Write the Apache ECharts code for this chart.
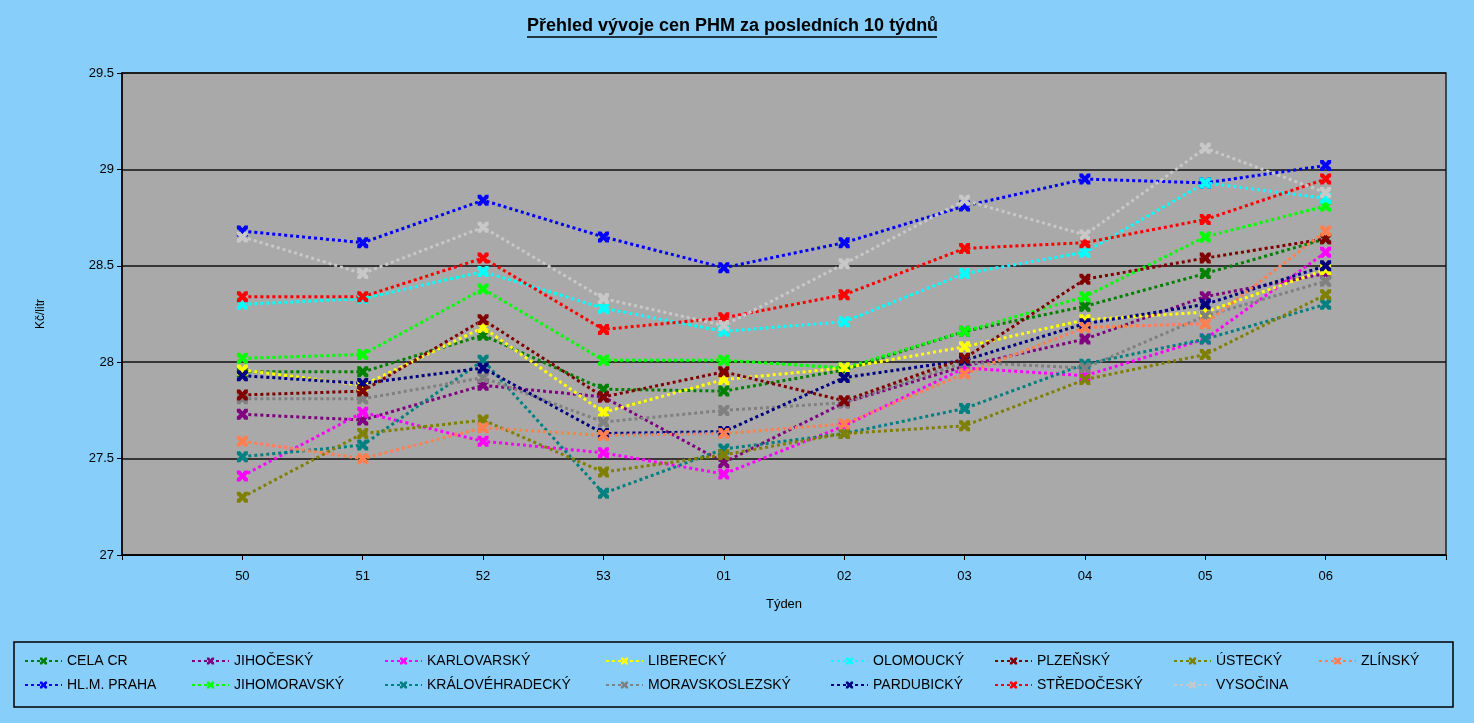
<!DOCTYPE html>
<html>
<head>
<meta charset="utf-8">
<script src="https://cdn.jsdelivr.net/npm/echarts@6/dist/echarts.min.js"></script>
<style>
html,body{margin:0;padding:0;background:#87CEFA;}
#c{width:1474px;height:723px;}
</style>
</head>
<body>
<div id="c"></div>
<script>
const weeks = ['50','51','52','53','01','02','03','04','05','06'];
const titleText = 'Přehled vývoje cen PHM za posledních 10 týdnů';
const yTicks = [27, 27.5, 28, 28.5, 29, 29.5];

const celaCR        = [27.95, 27.95, 28.14, 27.86, 27.85, 27.96, 28.16, 28.29, 28.46, 28.64];
const praha         = [28.68, 28.62, 28.84, 28.65, 28.49, 28.62, 28.81, 28.95, 28.93, 29.02];
const jihocesky     = [27.73, 27.70, 27.88, 27.82, 27.48, 27.79, 27.98, 28.12, 28.34, 28.46];
const jihomoravsky  = [28.02, 28.04, 28.38, 28.01, 28.01, 27.97, 28.16, 28.34, 28.65, 28.81];
const karlovarsky   = [27.41, 27.74, 27.59, 27.53, 27.42, 27.67, 27.97, 27.93, 28.12, 28.57];
const kralovehradecky = [27.51, 27.57, 28.01, 27.32, 27.55, 27.63, 27.76, 27.99, 28.12, 28.30];
const liberecky     = [27.96, 27.88, 28.18, 27.74, 27.91, 27.97, 28.08, 28.22, 28.26, 28.48];
const moravskoslezsky = [27.81, 27.81, 27.92, 27.69, 27.75, 27.79, 28.00, 27.97, 28.24, 28.42];
const olomoucky     = [28.30, 28.33, 28.47, 28.28, 28.16, 28.21, 28.46, 28.57, 28.93, 28.85];
const pardubicky    = [27.93, 27.89, 27.97, 27.63, 27.64, 27.92, 28.01, 28.20, 28.30, 28.50];
const plzensky      = [27.83, 27.85, 28.22, 27.82, 27.95, 27.80, 28.02, 28.43, 28.54, 28.64];
const stredocesky   = [28.34, 28.34, 28.54, 28.17, 28.23, 28.35, 28.59, 28.62, 28.74, 28.95];
const ustecky       = [27.30, 27.63, 27.70, 27.43, 27.52, 27.63, 27.67, 27.91, 28.04, 28.35];
const vysocina      = [28.65, 28.46, 28.70, 28.33, 28.19, 28.51, 28.84, 28.66, 29.11, 28.88];
const zlinsky       = [27.59, 27.50, 27.66, 27.62, 27.63, 27.68, 27.94, 28.18, 28.20, 28.68];

const seriesNames = ['CELA CR','HL.M. PRAHA','JIHOČESKÝ','JIHOMORAVSKÝ','KARLOVARSKÝ','KRÁLOVÉHRADECKÝ','LIBERECKÝ','MORAVSKOSLEZSKÝ','OLOMOUCKÝ','PARDUBICKÝ','PLZEŇSKÝ','STŘEDOČESKÝ','ÚSTECKÝ','VYSOČINA','ZLÍNSKÝ'];
const seriesData = [celaCR, praha, jihocesky, jihomoravsky, karlovarsky, kralovehradecky, liberecky, moravskoslezsky, olomoucky, pardubicky, plzensky, stredocesky, ustecky, vysocina, zlinsky];
const seriesColors = ['#008000','#0000FF','#800080','#00FF00','#FF00FF','#008080','#FFFF00','#808080','#00FFFF','#000080','#800000','#FF0000','#808000','#C8C8C8','#FF7F50'];

const FONT = 'Liberation Sans';
const xSymbol = 'path://M0,0 L3,0 L5,2.5 L7,0 L10,0 L10,3 L7.5,5 L10,7 L10,10 L7,10 L5,7.5 L3,10 L0,10 L0,7 L2.5,5 L0,3 Z';

// padded categories: one empty slot before and after
const cats = [''].concat(weeks, ['']);

const series = seriesNames.map((n, i) => ({
  name: n,
  type: 'line',
  data: [null].concat(seriesData[i], [null]),
  color: seriesColors[i],
  symbol: xSymbol,
  symbolSize: 11,
  showSymbol: true,
  lineStyle: { width: 3, type: [3, 3], color: seriesColors[i] },
  itemStyle: { color: seriesColors[i] },
  emphasis: { disabled: true },
  animation: false
}));

const colLefts = [24, 191, 384, 605, 830, 994, 1173, 1318];
const legends = colLefts.map((l, c) => ({
  orient: 'vertical',
  left: l,
  top: 654,
  padding: 0,
  itemWidth: 37,
  itemHeight: 9,
  itemGap: 10,
  textStyle: { fontFamily: FONT, fontSize: 14, color: '#000', lineHeight: 14 },
  data: seriesNames.slice(c * 2, c * 2 + 2),
  selectedMode: false
}));

const chart = echarts.init(document.getElementById('c'), null, { renderer: 'canvas' });
chart.setOption({
  backgroundColor: '#87CEFA',
  animation: false,
  graphic: [
    { type: 'text', left: 527, top: 17, style: { text: titleText, fontFamily: FONT, fontSize: 18, fontWeight: 'bold', fill: '#000' } },
    { type: 'line', shape: { x1: 527, y1: 37, x2: 937, y2: 37 }, style: { stroke: '#000', lineWidth: 1.5 } },
    { type: 'rect', shape: { x: 14, y: 642, width: 1439, height: 65 }, style: { fill: 'none', stroke: '#000', lineWidth: 1.5 }, z: -1 }
  ],
  legend: legends,
  grid: {
    left: 122, right: 28, top: 73, bottom: 168,
    show: true, backgroundColor: '#A9A9A9', borderColor: '#222', borderWidth: 1.5
  },
  xAxis: {
    type: 'category',
    data: cats,
    boundaryGap: false,
    name: 'Týden',
    nameLocation: 'middle',
    nameGap: 43,
    nameTextStyle: { fontFamily: FONT, fontSize: 13, color: '#000' },
    axisLine: { lineStyle: { color: '#000', width: 1.5 } },
    axisTick: { show: true, length: 5, lineStyle: { color: '#000' } },
    axisLabel: { fontFamily: FONT, fontSize: 13, color: '#000', margin: 15, interval: 0 },
    splitLine: { show: false }
  },
  yAxis: {
    type: 'value',
    min: 27, max: 29.5, interval: 0.5,
    name: 'Kč/litr',
    nameLocation: 'middle',
    nameGap: 75,
    nameTextStyle: { fontFamily: FONT, fontSize: 12, color: '#000' },
    axisLine: { show: true, lineStyle: { color: '#000', width: 1.5 } },
    axisTick: { show: true, length: 5, lineStyle: { color: '#000' } },
    axisLabel: { fontFamily: FONT, fontSize: 13, color: '#000', margin: 8,
      formatter: v => String(yTicks.find(t => Math.abs(t - v) < 1e-6) ?? v) },
    splitLine: { show: true, lineStyle: { color: '#111', width: 1.5 } }
  },
  series: series
});
</script>
</body>
</html>
